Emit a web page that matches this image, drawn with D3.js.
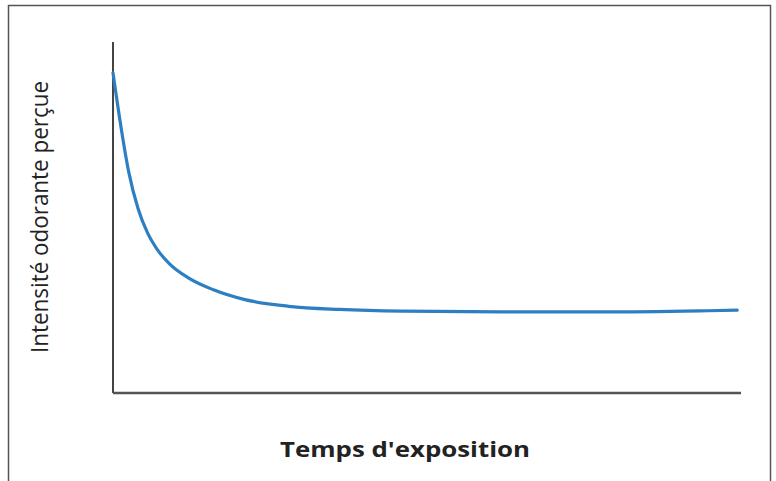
<!DOCTYPE html>
<html><head><meta charset="utf-8">
<script src="https://cdn.jsdelivr.net/npm/d3@7"></script>
<style>body{margin:0;background:#fff}svg{display:block}</style>
</head><body>
<svg id="c" width="776" height="481"></svg>
<script>
const time = [0, 1.27, 2.5, 4.0, 5.5, 7.0, 9.0, 12.0, 16.0, 21.0, 28.0, 36.0, 46.0, 62.0, 78.0, 93.5, 99.4];
const intensity = [91.2, 75.8, 63.0, 52.5, 45.6, 41.0, 36.8, 32.8, 29.4, 26.6, 24.7, 23.8, 23.3, 23.1, 23.1, 23.4, 23.6];
const xLabel = "Temps d'exposition";
const yLabel = "Intensité odorante perçue";

const svg = d3.select("#c");
svg.append("rect").attr("x", 8.5).attr("y", 5.5).attr("width", 762).attr("height", 480)
  .attr("fill", "#fff").attr("stroke", "#555").attr("stroke-width", 1.5);

const x = d3.scaleLinear().domain([0, 100]).range([113, 741]);
const y = d3.scaleLinear().domain([0, 100]).range([393, 42]);

svg.append("line").attr("x1", x(0)).attr("x2", x(0)).attr("y1", y(100)).attr("y2", y(0))
  .attr("stroke", "#444").attr("stroke-width", 2);
svg.append("line").attr("x1", x(0)).attr("x2", x(100)).attr("y1", y(0)).attr("y2", y(0))
  .attr("stroke", "#555").attr("stroke-width", 2.5);

const data = time.map((t, i) => [t, intensity[i]]);
svg.append("path").datum(data)
  .attr("d", d3.line().x(d => x(d[0])).y(d => y(d[1])).curve(d3.curveMonotoneX))
  .attr("fill", "none").attr("stroke", "#2e7fc2").attr("stroke-width", 3.2).attr("stroke-linecap", "round");

svg.append("text").attr("x", 405).attr("y", 457).attr("text-anchor", "middle")
  .attr("font-family", "Open Sans").attr("font-weight", "bold").attr("font-size", 21)
  .attr("textLength", 250).attr("lengthAdjust", "spacingAndGlyphs")
  .attr("fill", "#222").text(xLabel);
svg.append("text").attr("transform", "translate(48,217) rotate(-90)").attr("text-anchor", "middle")
  .attr("font-family", "Open Sans").attr("font-size", 23)
  .attr("textLength", 272).attr("lengthAdjust", "spacingAndGlyphs")
  .attr("fill", "#222").text(yLabel);
</script>
</body></html>
